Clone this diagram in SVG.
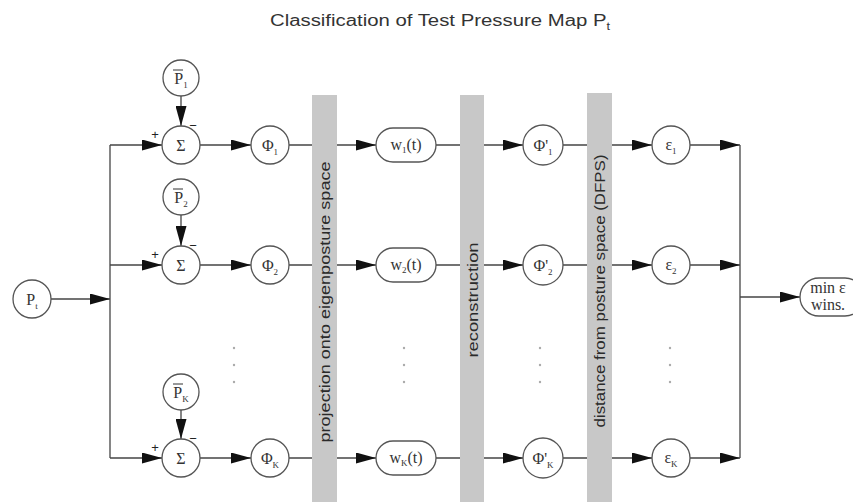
<svg xmlns="http://www.w3.org/2000/svg" width="853" height="502" viewBox="0 0 853 502">
<defs>
<marker id="ah" viewBox="0 0 20 11" refX="20" refY="5.5" markerWidth="20" markerHeight="11" markerUnits="userSpaceOnUse" orient="auto"><path d="M0,0 L20,5.5 L0,11 z" fill="#111"/></marker>
<style>
.ln{stroke:#444;stroke-width:1.3;fill:none}
.ar{stroke:#444;stroke-width:1.3;fill:none;marker-end:url(#ah)}
.nd{fill:#fff;stroke:#555;stroke-width:1.3}
.lb{font-family:"Liberation Serif",serif;font-size:16px;fill:#333;text-anchor:middle}
.sb{font-size:9px}
.sg{font-family:"Liberation Sans",sans-serif;font-size:13px;fill:#222;text-anchor:middle}
.band{fill:#c8c8c8}
.bt{font-family:"Liberation Sans",sans-serif;font-size:15px;fill:#2a2a2a;text-anchor:middle}
.dot{fill:#aaa}
</style>
</defs>
<rect width="853" height="502" fill="#fff"/>
<text x="440" y="26" font-family="Liberation Sans, sans-serif" font-size="16" fill="#333" text-anchor="middle" textLength="340" lengthAdjust="spacingAndGlyphs">Classification of Test Pressure Map P<tspan font-size="10" dy="4">t</tspan></text>

<g id="connectors">
<line class="ar" x1="51" y1="299" x2="110" y2="299"/>
<line class="ln" x1="110" y1="145" x2="110" y2="458"/>
<line class="ar" x1="110" y1="145" x2="162" y2="145"/>
<line class="ar" x1="110" y1="265" x2="162" y2="265"/>
<line class="ar" x1="110" y1="458" x2="162" y2="458"/>
<line class="ar" x1="181" y1="96" x2="181" y2="126"/>
<line class="ar" x1="181" y1="215" x2="181" y2="246"/>
<line class="ar" x1="181" y1="410" x2="181" y2="439"/>
<line class="ar" x1="200" y1="145" x2="251" y2="145"/>
<line class="ar" x1="200" y1="265" x2="251" y2="265"/>
<line class="ar" x1="200" y1="458" x2="251" y2="458"/>
<line class="ar" x1="289" y1="145" x2="376" y2="145"/>
<line class="ar" x1="289" y1="265" x2="376" y2="265"/>
<line class="ar" x1="289" y1="458" x2="376" y2="458"/>
<line class="ar" x1="436" y1="145" x2="523" y2="145"/>
<line class="ar" x1="436" y1="265" x2="523" y2="265"/>
<line class="ar" x1="436" y1="458" x2="523" y2="458"/>
<line class="ar" x1="563" y1="145" x2="652" y2="145"/>
<line class="ar" x1="563" y1="265" x2="652" y2="265"/>
<line class="ar" x1="563" y1="458" x2="652" y2="458"/>
<line class="ar" x1="690" y1="145" x2="740" y2="145"/>
<line class="ar" x1="690" y1="265" x2="740" y2="265"/>
<line class="ar" x1="690" y1="458" x2="740" y2="458"/>
<line class="ln" x1="740" y1="145" x2="740" y2="458"/>
<line class="ar" x1="740" y1="297" x2="800" y2="297"/>
</g>

<g id="bands">
<rect class="band" x="312" y="95" width="25" height="407"/>
<rect class="band" x="460" y="95" width="24" height="407"/>
<rect class="band" x="587" y="93" width="25" height="409"/>
<text class="bt" transform="translate(330,302) rotate(-90)" textLength="281" lengthAdjust="spacingAndGlyphs">projection onto eigenposture space</text>
<text class="bt" transform="translate(477.5,300) rotate(-90)" textLength="115" lengthAdjust="spacingAndGlyphs">reconstruction</text>
<text class="bt" transform="translate(604.5,291) rotate(-90)" textLength="273" lengthAdjust="spacingAndGlyphs">distance from posture space (DFPS)</text>
</g>

<g id="dots">
<circle class="dot" cx="234" cy="348" r="1.2"/><circle class="dot" cx="234" cy="365" r="1.2"/><circle class="dot" cx="234" cy="382" r="1.2"/>
<circle class="dot" cx="404" cy="348" r="1.2"/><circle class="dot" cx="404" cy="365" r="1.2"/><circle class="dot" cx="404" cy="382" r="1.2"/>
<circle class="dot" cx="540" cy="348" r="1.2"/><circle class="dot" cx="540" cy="365" r="1.2"/><circle class="dot" cx="540" cy="382" r="1.2"/>
<circle class="dot" cx="670" cy="348" r="1.2"/><circle class="dot" cx="670" cy="365" r="1.2"/><circle class="dot" cx="670" cy="382" r="1.2"/>
</g>

<g id="Pt"><circle class="nd" cx="32" cy="299" r="19"/><text class="lb" x="32" y="305">P<tspan class="sb" dy="4">t</tspan></text></g>

<g id="Pbar1"><circle class="nd" cx="181" cy="78" r="18"/><line x1="173" y1="70" x2="183" y2="70" stroke="#333" stroke-width="1"/><text class="lb" x="181" y="84">P<tspan class="sb" dy="4">1</tspan></text></g>
<g id="Pbar2"><circle class="nd" cx="181" cy="197" r="18"/><line x1="173" y1="189" x2="183" y2="189" stroke="#333" stroke-width="1"/><text class="lb" x="181" y="203">P<tspan class="sb" dy="4">2</tspan></text></g>
<g id="PbarK"><circle class="nd" cx="181" cy="392" r="18"/><line x1="173" y1="384" x2="183" y2="384" stroke="#333" stroke-width="1"/><text class="lb" x="181" y="398">P<tspan class="sb" dy="4">K</tspan></text></g>

<g id="sum1"><circle class="nd" cx="181" cy="145" r="19"/><text class="lb" x="181" y="151" font-size="17">Σ</text><text class="sg" x="155" y="139">+</text><text class="sg" x="193" y="130">−</text></g>
<g id="sum2"><circle class="nd" cx="181" cy="265" r="19"/><text class="lb" x="181" y="271" font-size="17">Σ</text><text class="sg" x="155" y="259">+</text><text class="sg" x="193" y="250">−</text></g>
<g id="sumK"><circle class="nd" cx="181" cy="458" r="19"/><text class="lb" x="181" y="464" font-size="17">Σ</text><text class="sg" x="155" y="452">+</text><text class="sg" x="193" y="443">−</text></g>

<g id="phi1"><circle class="nd" cx="270" cy="145" r="19"/><text class="lb" x="270" y="151">Φ<tspan class="sb" dy="4">1</tspan></text></g>
<g id="phi2"><circle class="nd" cx="270" cy="265" r="19"/><text class="lb" x="270" y="271">Φ<tspan class="sb" dy="4">2</tspan></text></g>
<g id="phiK"><circle class="nd" cx="270" cy="458" r="19"/><text class="lb" x="270" y="464">Φ<tspan class="sb" dy="4">K</tspan></text></g>

<g id="w1"><rect class="nd" x="376" y="128" width="60" height="34" rx="17"/><text class="lb" x="406" y="150" font-size="13">w<tspan class="sb" dy="3">1</tspan><tspan dy="-3">(t)</tspan></text></g>
<g id="w2"><rect class="nd" x="376" y="248" width="60" height="34" rx="17"/><text class="lb" x="406" y="270" font-size="13">w<tspan class="sb" dy="3">2</tspan><tspan dy="-3">(t)</tspan></text></g>
<g id="wK"><rect class="nd" x="376" y="441" width="60" height="34" rx="17"/><text class="lb" x="406" y="463" font-size="13">w<tspan class="sb" dy="3">K</tspan><tspan dy="-3">(t)</tspan></text></g>

<g id="phip1"><circle class="nd" cx="543" cy="145" r="20"/><text class="lb" x="543" y="151">Φ'<tspan class="sb" dy="4">1</tspan></text></g>
<g id="phip2"><circle class="nd" cx="543" cy="265" r="20"/><text class="lb" x="543" y="271">Φ'<tspan class="sb" dy="4">2</tspan></text></g>
<g id="phipK"><circle class="nd" cx="543" cy="458" r="20"/><text class="lb" x="543" y="464">Φ'<tspan class="sb" dy="4">K</tspan></text></g>

<g id="eps1"><circle class="nd" cx="671" cy="145" r="19"/><text class="lb" x="671" y="150">ε<tspan class="sb" dy="4">1</tspan></text></g>
<g id="eps2"><circle class="nd" cx="671" cy="265" r="19"/><text class="lb" x="671" y="270">ε<tspan class="sb" dy="4">2</tspan></text></g>
<g id="epsK"><circle class="nd" cx="671" cy="458" r="19"/><text class="lb" x="671" y="463">ε<tspan class="sb" dy="4">K</tspan></text></g>

<g id="out"><rect class="nd" x="800" y="278" width="64" height="38" rx="19"/><text class="lb" x="828" y="293" font-size="13">min ε</text><text class="lb" x="828" y="310" font-size="13">wins.</text></g>
</svg>
